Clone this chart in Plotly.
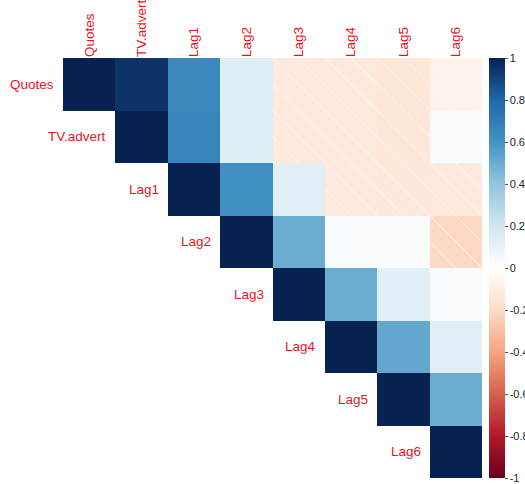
import plotly.graph_objects as go

names = ["Quotes", "TV.advert", "Lag1", "Lag2", "Lag3", "Lag4", "Lag5", "Lag6"]
top_labels = ["Quotes", "TV.advert", "Lag1", "Lag2", "Lag3", "Lag4", "Lag5", "Lag6"]

# upper-triangle correlation values (row-wise, starting at diagonal)
row_Quotes = [1.00, 0.95, 0.65, 0.14, -0.12, -0.12, -0.14, -0.07]
row_TV     = [1.00, 0.66, 0.14, -0.12, -0.12, -0.14, 0.03]
row_Lag1   = [1.00, 0.62, 0.13, -0.12, -0.13, -0.12]
row_Lag2   = [1.00, 0.50, 0.03, 0.02, -0.21]
row_Lag3   = [1.00, 0.50, 0.12, 0.03]
row_Lag4   = [1.00, 0.52, 0.13]
row_Lag5   = [1.00, 0.50]
row_Lag6   = [1.00]
rows = [row_Quotes, row_TV, row_Lag1, row_Lag2, row_Lag3, row_Lag4, row_Lag5, row_Lag6]

n = len(names)
z = []
for i, r in enumerate(rows):
    z.append([None] * i + list(r))

colorscale = [
    [0.0, "#67001F"], [0.1, "#B2182B"], [0.2, "#D6604D"], [0.3, "#F4A582"],
    [0.4, "#FDDBC7"], [0.5, "#FFFFFF"], [0.6, "#D1E5F0"], [0.7, "#92C5DE"],
    [0.8, "#4393C3"], [0.9, "#2166AC"], [1.0, "#072250"],
]

fig = go.Figure()
fig.add_trace(go.Heatmap(
    z=z, x=list(range(n)), y=list(range(n)),
    zmin=-1, zmax=1, colorscale=colorscale, hoverongaps=False,
    colorbar=dict(
        x=1.0167, xanchor="left", xpad=0, ypad=0,
        y=0.5, yanchor="middle", len=1, lenmode="fraction",
        thickness=16, outlinewidth=0,
        tickvals=[1, 0.8, 0.6, 0.4, 0.2, 0, -0.2, -0.4, -0.6, -0.8, -1],
        ticktext=["1", "0.8", "0.6", "0.4", "0.2", "0", "-0.2", "-0.4", "-0.6", "-0.8", "-1"],
        ticks="outside", ticklen=3, tickcolor="#555",
        tickfont=dict(family="Liberation Sans, Arial", size=11, color="#222"),
    ),
))

# hatching on negative cells (lines x - y = c, c multiple of 0.5)
hx, hy = [], []
for i in range(n):
    for j in range(n):
        v = z[i][j]
        if v is None or v >= 0:
            continue
        x0, y0 = j - 0.5, i - 0.5
        k0 = int(round((x0 - y0 - 1) * 2)) - 1
        for k in range(k0, k0 + 6):
            c = k * 0.5
            lo = max(x0, y0 + c)
            hi = min(x0 + 1, y0 + 1 + c)
            if hi - lo > 1e-6:
                hx += [lo, hi, None]
                hy += [lo - c, hi - c, None]
fig.add_trace(go.Scatter(
    x=hx, y=hy, mode="lines", hoverinfo="skip", showlegend=False,
    line=dict(color="rgba(255,255,255,0.6)", width=1),
))

for i, nm in enumerate(names):
    fig.add_annotation(
        x=i - 0.5, y=i, text=nm, showarrow=False, xanchor="right", yanchor="middle",
        xshift=-7, font=dict(family="Liberation Sans, Arial", size=13.5, color="#E8141C"),
    )

fig.update_xaxes(
    range=[-0.5, n - 0.5], side="top", tickvals=list(range(n)), ticktext=top_labels,
    tickangle=-90, tickfont=dict(family="Liberation Sans, Arial", size=13.5, color="#E8141C"),
    showgrid=False, zeroline=False, ticks="", showline=False,
)
fig.update_yaxes(
    range=[n - 0.5, -0.5], showticklabels=False, showgrid=False, zeroline=False,
    ticks="", showline=False,
)
fig.update_layout(
    width=525, height=484,
    margin=dict(l=63, r=43, t=58, b=6, autoexpand=False),
    plot_bgcolor="white", paper_bgcolor="white", showlegend=False,
)
fig.write_html("out.html")
